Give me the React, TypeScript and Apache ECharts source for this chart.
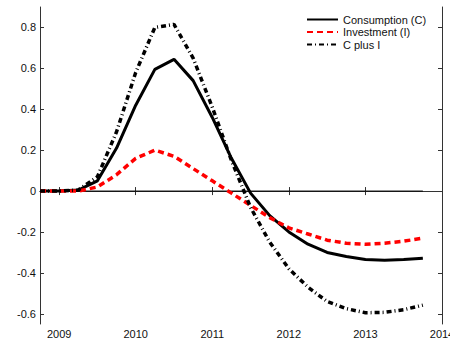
import React, { useEffect, useRef } from "react";
import * as echarts from "echarts";

const quarters = [
  2008.75, 2009.0, 2009.25, 2009.5, 2009.75, 2010.0, 2010.25, 2010.5, 2010.75,
  2011.0, 2011.25, 2011.5, 2011.75, 2012.0, 2012.25, 2012.5, 2012.75, 2013.0,
  2013.25, 2013.5, 2013.75,
];
const consumption = [
  0, 0, 0.005, 0.05, 0.21, 0.42, 0.595, 0.644, 0.54, 0.36, 0.16, -0.01, -0.12,
  -0.2, -0.26, -0.3, -0.32, -0.335, -0.338, -0.335, -0.328,
];
const investment = [
  0, 0, 0, 0.02, 0.08, 0.16, 0.2, 0.17, 0.11, 0.05, -0.01, -0.07, -0.13, -0.18,
  -0.21, -0.24, -0.255, -0.26, -0.255, -0.245, -0.23,
];
const cPlusI = [
  0, 0, 0.005, 0.07, 0.29, 0.58, 0.8, 0.815, 0.65, 0.41, 0.15, -0.08, -0.25,
  -0.38, -0.47, -0.54, -0.575, -0.595, -0.593, -0.58, -0.558,
];
const zeroLine = [0, 0];
const zeroX = [2008.75, 2013.75];
const xTicks = [2009, 2010, 2011, 2012, 2013, 2014];
const yTicks = [-0.6, -0.4, -0.2, 0, 0.2, 0.4, 0.6, 0.8];
const seriesNames = ["Consumption (C)", "Investment (I)", "C plus I"];

const FONT = "Liberation Sans";
const AXIS_COLOR = "#333";

export default function App() {
  const ref = useRef<HTMLDivElement>(null);
  useEffect(() => {
    if (!ref.current) return;
    const chart = echarts.init(ref.current, undefined, { renderer: "svg" });
    const pair = (ys: number[]) => quarters.map((q, i) => [q, ys[i]]);
    const xBase = {
      type: "value" as const,
      min: 2008.75,
      max: 2014,
      splitLine: { show: false },
      axisLine: { show: true, lineStyle: { color: AXIS_COLOR, width: 1 } },
      axisTick: {
        show: true,
        inside: true,
        length: 4,
        customValues: xTicks,
        lineStyle: { color: AXIS_COLOR },
      },
    };
    const yBase = {
      type: "value" as const,
      min: -0.65,
      max: 0.9,
      splitLine: { show: false },
      axisLine: { show: true, lineStyle: { color: AXIS_COLOR, width: 1 } },
      axisTick: {
        show: true,
        inside: true,
        length: 4,
        customValues: yTicks,
        lineStyle: { color: AXIS_COLOR },
      },
    };
    chart.setOption({
      animation: false,
      grid: {
        left: 40,
        right: 8,
        top: 7,
        bottom: 19,
        containLabel: false,
        outerBoundsMode: "none",
      },
      legend: {
        orient: "vertical",
        left: 306,
        top: 14,
        padding: 0,
        itemWidth: 31,
        itemHeight: 12,
        itemGap: 1.5,
        data: seriesNames,
        itemStyle: { opacity: 0 },
        textStyle: { fontFamily: FONT, fontSize: 11, color: "#111" },
      },
      xAxis: [
        {
          ...xBase,
          position: "bottom",
          axisLabel: {
            show: true,
            customValues: xTicks,
            formatter: (v: number) => String(Math.round(v)),
            fontFamily: FONT,
            fontSize: 11,
            color: "#111",
            margin: 4,
            alignMinLabel: "center",
            alignMaxLabel: "center",
            hideOverlap: false,
          },
        },
        { ...xBase, position: "top", axisLabel: { show: false } },
      ],
      yAxis: [
        {
          ...yBase,
          position: "left",
          axisLabel: {
            show: true,
            customValues: yTicks,
            formatter: (v: number) =>
              Math.abs(v) < 1e-9 ? "0" : v.toFixed(1),
            fontFamily: FONT,
            fontSize: 11,
            color: "#111",
            margin: 4,
          },
        },
        { ...yBase, position: "right", axisLabel: { show: false } },
      ],
      series: [
        {
          name: "zero",
          type: "line",
          data: zeroX.map((x, i) => [x, zeroLine[i]]),
          symbol: "none",
          lineStyle: { color: "#000", width: 1 },
          z: 1,
        },
        {
          name: seriesNames[0],
          type: "line",
          data: pair(consumption),
          symbol: "none",
          color: "#000",
          lineStyle: { color: "#000", width: 3 },
          z: 2,
        },
        {
          name: seriesNames[1],
          type: "line",
          data: pair(investment),
          symbol: "none",
          color: "#ff0000",
          lineStyle: { color: "#ff0000", width: 3.5, type: [6, 4] },
          z: 3,
        },
        {
          name: seriesNames[2],
          type: "line",
          data: pair(cPlusI),
          symbol: "none",
          color: "#000",
          lineStyle: { color: "#000", width: 3.5, type: [5, 3, 1, 3] },
          z: 4,
        },
      ],
    });
    return () => chart.dispose();
  }, []);
  return (
    <div
      ref={ref}
      style={{
        position: "fixed",
        left: 0,
        top: 0,
        width: 450,
        height: 343,
        background: "#fff",
      }}
    />
  );
}
